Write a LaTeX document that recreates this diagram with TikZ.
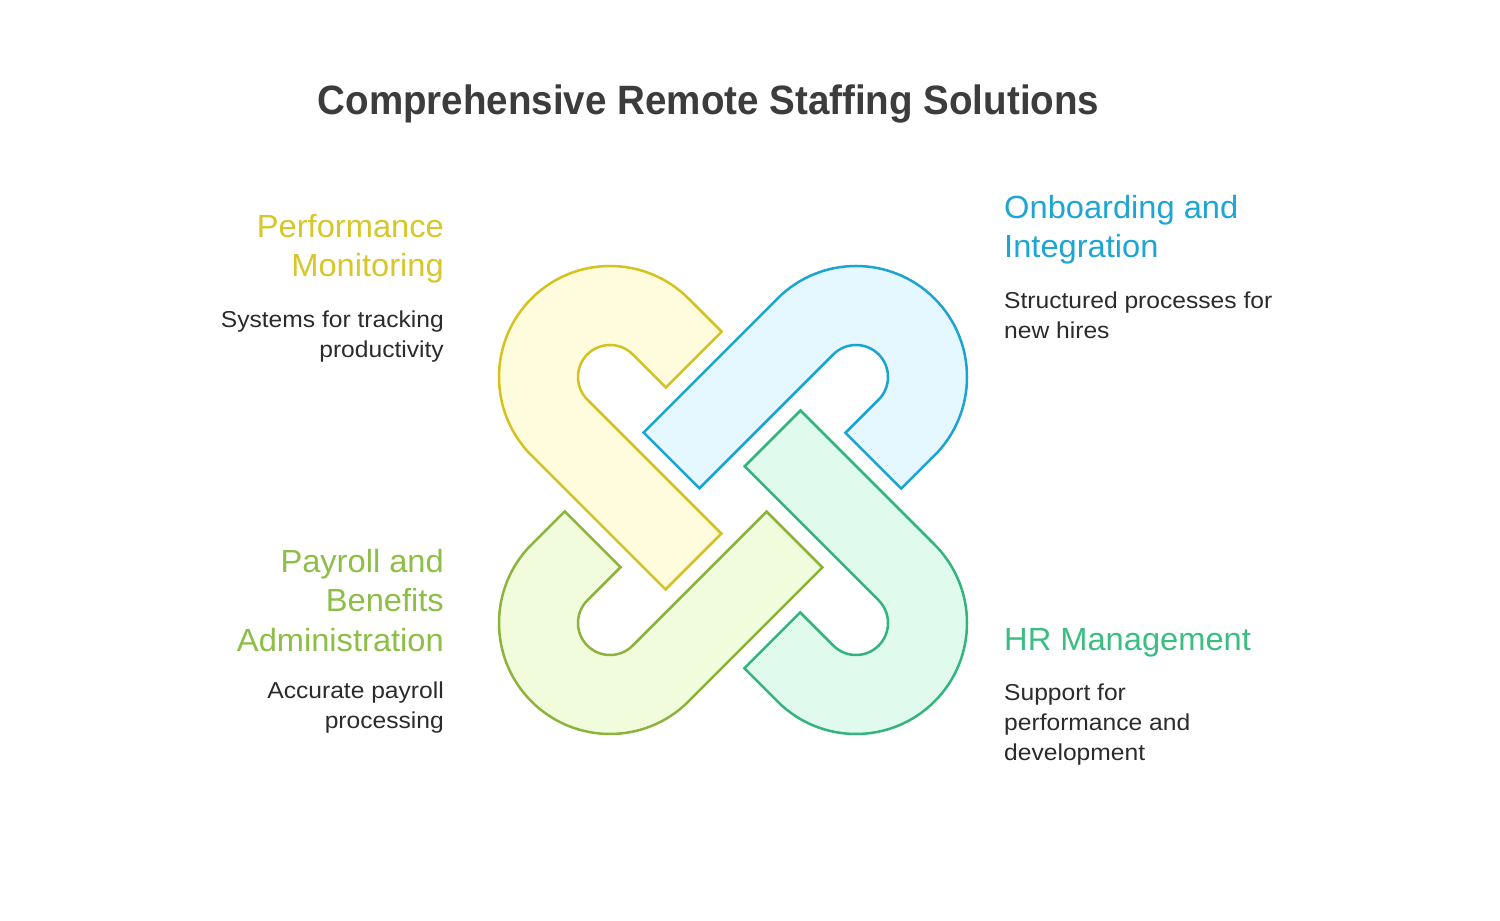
\documentclass[tikz,border=0pt]{standalone}
\usepackage{fontspec}
\setmainfont{Liberation Sans}
\newfontfamily\titlefont[FakeStretch=0.94]{Liberation Sans}
\newfontfamily\headfont[FakeStretch=1.02]{Liberation Sans}
\newfontfamily\descfont[FakeStretch=1.07]{Liberation Sans}
\usetikzlibrary{positioning}
\definecolor{perfline}{HTML}{D4C21E}
\definecolor{perffill}{HTML}{FFFBDD}
\definecolor{perftext}{HTML}{D7C72A}
\definecolor{onbline}{HTML}{1BA3D1}
\definecolor{onbfill}{HTML}{E6F8FF}
\definecolor{onbtext}{HTML}{1EA5D3}
\definecolor{hrline}{HTML}{32B57C}
\definecolor{hrfill}{HTML}{E0FBEE}
\definecolor{hrtext}{HTML}{3CBE82}
\definecolor{payline}{HTML}{8CB43C}
\definecolor{payfill}{HTML}{F1FCDD}
\definecolor{paytext}{HTML}{8DBE46}
\definecolor{titletext}{HTML}{3C3C3C}
\definecolor{desctext}{HTML}{2B2B2B}

\begin{document}
\begin{tikzpicture}[x=1pt,y=1pt,node distance=27pt,
  link/.pic={\path[pic actions] (47,111) -- (0,111) arc[start angle=90,end angle=270,radius=111]
      -- (189.5,-111) -- (189.5,-32) -- (0,-32) arc[start angle=-90,end angle=-270,radius=32]
      -- (47,32) -- cycle;},
  linkline/.style={line width=2.5pt,line join=miter},
  title/.style={inner sep=0pt,text=titletext,font=\titlefont\fontsize{41}{49}\selectfont\bfseries},
  head/.style={inner sep=0pt,font=\headfont\fontsize{32}{39.5}\selectfont},
  desc/.style={inner sep=0pt,text=desctext,font=\descfont\fontsize{23}{29.6}\selectfont}]
  \path[fill=white,use as bounding box] (0,0) rectangle (1500,921);

  % the four links
  \pic[linkline,draw=perfline,fill=perffill,rotate=-45] (perflink) at (610,544) {link};
  \pic[linkline,draw=onbline,fill=onbfill,rotate=-135] (onblink) at (856,544) {link};
  \pic[linkline,draw=hrline,fill=hrfill,rotate=135] (hrlink) at (856,298) {link};
  \pic[linkline,draw=payline,fill=payfill,rotate=45] (paylink) at (610,298) {link};

  \node[title,anchor=north] (ttl) at (708.5,836) {Comprehensive Remote Staffing Solutions};

  % left side
  \node[head,text=perftext,anchor=north east,align=right] (perf) at (444,707) {Performance\\Monitoring};
  \node[desc,below=of perf.south east,anchor=north east,align=right] (perfdesc) {Systems for tracking\\productivity};
  \node[head,text=paytext,anchor=north east,align=right] (pay) at (444,372) {Payroll and\\Benefits\\Administration};
  \node[desc,below=30pt of pay.south east,anchor=north east,align=right] (paydesc) {Accurate payroll\\processing};

  % right side
  \node[head,text=onbtext,anchor=north west,align=left] (onb) at (1004,726) {Onboarding and\\Integration};
  \node[desc,below=of onb.south west,anchor=north west,align=left] (onbdesc) {Structured processes for\\new hires};
  \node[head,text=hrtext,anchor=north west,align=left] (hr) at (1004,293) {HR Management};
  \node[desc,below=of hr.south west,anchor=north west,align=left] (hrdesc) {Support for\\performance and\\development};
\end{tikzpicture}
\end{document}
